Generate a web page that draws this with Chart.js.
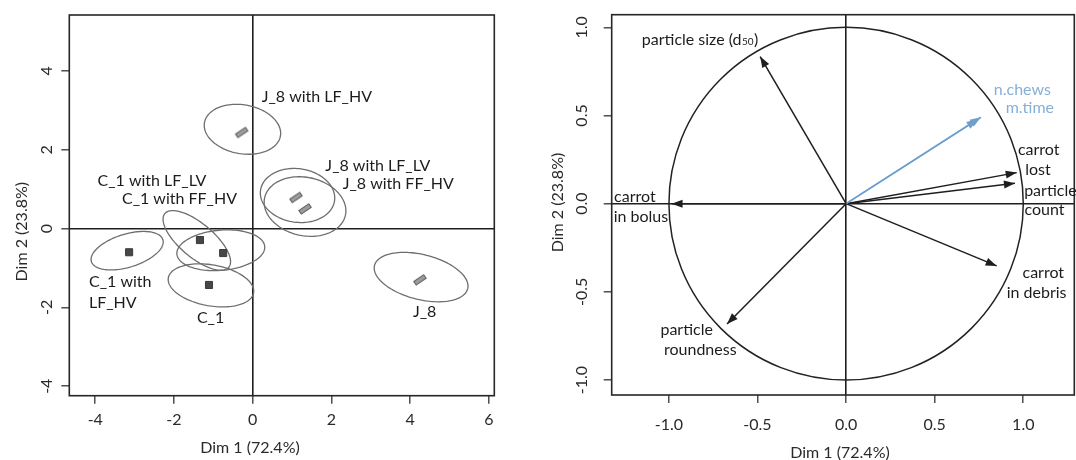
<!DOCTYPE html>
<html>
<head>
<meta charset="utf-8">
<script src="https://cdn.jsdelivr.net/npm/chart.js@4.4.0/dist/chart.umd.min.js"></script>
<style>
	html, body { margin: 0; padding: 0; background: #fff; }
	#wrap { position: relative; width: 1076px; height: 460px; overflow: hidden; }
	.panel { position: absolute; top: 0; height: 460px; }
	#left { left: 0; width: 540px; }
	#right { left: 540px; width: 536px; }
</style>
</head>
<body>
<div id="wrap">
	<div class="panel" id="left"><canvas id="indChart" width="540" height="460"></canvas></div>
	<div class="panel" id="right"><canvas id="varChart" width="536" height="460"></canvas></div>
</div>
<script>
'use strict'

// ---- individuals factor map ----
const indTicksX = [-4, -2, 0, 2, 4, 6];
const indTicksY = [-4, -2, 0, 2, 4];

// J_8 samples (grey bars) and C_1 samples (dark squares)
const j8X = [-0.28, 1.10, 1.33, 4.25];
const j8Y = [2.44, 0.79, 0.50, -1.30];
const c1X = [-3.14, -1.34, -0.75, -1.11];
const c1Y = [-0.60, -0.29, -0.62, -1.43];

// confidence ellipses: centre, semi axes, angle (deg)
const ellCx = [-0.26, 1.14, 1.33, 4.28, -3.19, -1.42, -0.81, -1.06];
const ellCy = [2.52, 0.84, 0.56, -1.23, -0.56, -0.30, -0.55, -1.44];
const ellA = [0.98, 0.95, 1.05, 1.22, 0.95, 1.06, 1.12, 1.10];
const ellB = [0.62, 0.68, 0.74, 0.57, 0.42, 0.43, 0.51, 0.52];
const ellAngle = [-10, -8, -12, -14, 17, -40, 5, -10];

const indLabels = ['J_8 with LF_HV', 'J_8 with LF_LV', 'J_8 with FF_HV', 'C_1 with LF_LV', 'C_1 with FF_HV', 'C_1', 'J_8'];
const indLabelX = [1.63, 3.18, 3.70, -2.56, -1.86, -1.07, 4.37];
const indLabelY = [3.34, 1.59, 1.13, 1.21, 0.75, -2.27, -2.11];
// left-aligned two line label
const lfhvLines = ['C_1 with', 'LF_HV'];
const lfhvX = -4.16;
const lfhvY = [-1.35, -1.88];

// ---- variables factor map ----
const varTicks = [-1, -0.5, 0, 0.5, 1];
const varNames = ['particle size', 'n.chews', 'm.time', 'carrot lost', 'particle count', 'carrot in bolus', 'carrot in debris', 'particle roundness'];
const varX = [-0.485, 0.761, 0.742, 0.963, 0.953, -0.985, 0.850, -0.672];
const varY = [0.834, 0.490, 0.478, 0.176, 0.116, 0.0, -0.353, -0.682];
const suppVars = ['n.chews', 'm.time'];

const varLabels = ['n.chews', 'm.time', 'carrot', 'lost', 'particle', 'count', 'carrot', 'in bolus', 'carrot', 'in debris', 'particle', 'roundness'];
const varLabelX = [0.995, 1.037, 1.087, 1.083, 1.153, 1.120, -1.192, -1.158, 1.113, 1.075, -0.900, -0.823];
const varLabelY = [0.645, 0.541, 0.307, 0.191, 0.075, -0.036, 0.040, -0.074, -0.395, -0.508, -0.716, -0.830];
const d50LabelX = -0.827;
const d50LabelY = 0.928;

const FONT = 'Lato, "Open Sans", sans-serif';
const INK = '#1c1c1c';
const BLUE = '#6f9fcd';

let axisOpts = (min, max, ticks) => ({
	type: 'linear',
	min: min,
	max: max,
	afterBuildTicks: (scale) => {
		scale.ticks = ticks.map((v) => ({value: v}));
	},
	ticks: {display: false},
	border: {display: false},
	grid: {
		drawOnChartArea: true,
		drawTicks: true,
		tickLength: 8,
		tickColor: '#333',
		tickWidth: 1.3,
		lineWidth: 1.6,
		color: (c) => (c.tick && c.tick.value === 0) ? '#1e1e1e' : 'rgba(0,0,0,0)'
	}
});

let drawBox = (chart) => {
	let ctx = chart.ctx;
	let a = chart.chartArea;
	ctx.save();
	ctx.strokeStyle = '#262626';
	ctx.lineWidth = 1.6;
	ctx.strokeRect(a.left, a.top, a.right - a.left, a.bottom - a.top);
	ctx.restore();
};

let drawTickText = (chart, fmt, xLabelY, yLabelX) => {
	let ctx = chart.ctx;
	let xs = chart.scales.x;
	let ys = chart.scales.y;
	ctx.save();
	ctx.fillStyle = '#2a2a2a';
	ctx.font = '16px ' + FONT;
	ctx.textAlign = 'center';
	ctx.textBaseline = 'middle';
	xs.ticks.forEach((t) => {
		ctx.fillText(fmt(t.value), xs.getPixelForValue(t.value), xLabelY);
	});
	ys.ticks.forEach((t) => {
		ctx.save();
		ctx.translate(yLabelX, ys.getPixelForValue(t.value));
		ctx.rotate(-Math.PI / 2);
		ctx.fillText(fmt(t.value), 0, 0);
		ctx.restore();
	});
	ctx.restore();
};

let drawTitles = (chart, xPos, yPos) => {
	let ctx = chart.ctx;
	ctx.save();
	ctx.fillStyle = '#2a2a2a';
	ctx.font = '16px ' + FONT;
	ctx.textAlign = 'center';
	ctx.textBaseline = 'middle';
	ctx.fillText('Dim 1 (72.4%)', xPos[0], xPos[1]);
	ctx.translate(yPos[0], yPos[1]);
	ctx.rotate(-Math.PI / 2);
	ctx.fillText('Dim 2 (23.8%)', 0, 0);
	ctx.restore();
};

let makeBar = () => {
	let c = document.createElement('canvas');
	c.width = 18;
	c.height = 18;
	let g = c.getContext('2d');
	g.translate(9, 9);
	g.rotate(-34 * Math.PI / 180);
	g.fillStyle = '#9d9d9d';
	g.strokeStyle = '#555';
	g.lineWidth = 1;
	g.fillRect(-6, -2.2, 12, 4.4);
	g.strokeRect(-6, -2.2, 12, 4.4);
	return c;
};

let indPlugin = {
	id: 'indExtras',
	beforeDatasetsDraw: (chart) => {
		let ctx = chart.ctx;
		let x = chart.scales.x;
		let y = chart.scales.y;
		ctx.save();
		ctx.strokeStyle = '#6e6e6e';
		ctx.lineWidth = 1.3;
		ellCx.forEach((cx, i) => {
			let rot = ellAngle[i] * Math.PI / 180;
			ctx.beginPath();
			for (let k = 0; k <= 120; k++) {
				let t = k / 120 * 2 * Math.PI;
				let ex = ellA[i] * Math.cos(t);
				let ey = ellB[i] * Math.sin(t);
				let px = x.getPixelForValue(cx + ex * Math.cos(rot) - ey * Math.sin(rot));
				let py = y.getPixelForValue(ellCy[i] + ex * Math.sin(rot) + ey * Math.cos(rot));
				if (k === 0) {
					ctx.moveTo(px, py);
				} else {
					ctx.lineTo(px, py);
				}
			}
			ctx.closePath();
			ctx.stroke();
		});
		ctx.restore();
	},
	afterDatasetsDraw: (chart) => {
		let ctx = chart.ctx;
		let x = chart.scales.x;
		let y = chart.scales.y;
		drawBox(chart);
		drawTickText(chart, (v) => String(v), 420, 46.7);
		drawTitles(chart, [250, 448], [21.7, 231.7]);
		ctx.save();
		ctx.fillStyle = INK;
		ctx.font = '16px ' + FONT;
		ctx.textAlign = 'center';
		ctx.textBaseline = 'middle';
		indLabels.forEach((txt, i) => {
			ctx.fillText(txt, x.getPixelForValue(indLabelX[i]), y.getPixelForValue(indLabelY[i]));
		});
		ctx.textAlign = 'left';
		lfhvLines.forEach((txt, i) => {
			ctx.fillText(txt, x.getPixelForValue(lfhvX), y.getPixelForValue(lfhvY[i]));
		});
		ctx.restore();
	}
};

let drawArrowHead = (ctx, x0, y0, x1, y1, color) => {
	let ang = Math.atan2(y1 - y0, x1 - x0);
	let len = 11;
	let half = 4;
	ctx.save();
	ctx.fillStyle = color;
	ctx.translate(x1, y1);
	ctx.rotate(ang);
	ctx.beginPath();
	ctx.moveTo(0, 0);
	ctx.lineTo(-len, -half);
	ctx.lineTo(-len, half);
	ctx.closePath();
	ctx.fill();
	ctx.restore();
};

let varPlugin = {
	id: 'varExtras',
	beforeDatasetsDraw: (chart) => {
		let ctx = chart.ctx;
		let x = chart.scales.x;
		let y = chart.scales.y;
		let cx = x.getPixelForValue(0);
		let cy = y.getPixelForValue(0);
		ctx.save();
		ctx.strokeStyle = '#222';
		ctx.lineWidth = 1.5;
		ctx.beginPath();
		ctx.ellipse(cx, cy, x.getPixelForValue(1) - cx, cy - y.getPixelForValue(1), 0, 0, 2 * Math.PI);
		ctx.stroke();
		ctx.restore();
	},
	afterDatasetsDraw: (chart) => {
		let ctx = chart.ctx;
		let x = chart.scales.x;
		let y = chart.scales.y;
		chart.data.datasets.forEach((ds, i) => {
			let pts = chart.getDatasetMeta(i).data;
			drawArrowHead(ctx, pts[0].x, pts[0].y, pts[1].x, pts[1].y, ds.borderColor);
		});
		drawBox(chart);
		drawTickText(chart, (v) => v.toFixed(1), 425, 41.7);
		drawTitles(chart, [300, 453], [18, 202.5]);
		ctx.save();
		ctx.font = '16px ' + FONT;
		ctx.textAlign = 'center';
		ctx.textBaseline = 'middle';
		varLabels.forEach((txt, i) => {
			ctx.fillStyle = suppVars.includes(txt) ? '#86afd8' : INK;
			ctx.fillText(txt, x.getPixelForValue(varLabelX[i]), y.getPixelForValue(varLabelY[i]));
		});
		// particle size (d50) with subscript
		ctx.fillStyle = INK;
		let main = 'particle size (d';
		let sub = '50';
		let wMain = ctx.measureText(main).width;
		ctx.font = '10px ' + FONT;
		let wSub = ctx.measureText(sub).width;
		ctx.font = '16px ' + FONT;
		let wEnd = ctx.measureText(')').width;
		let left = x.getPixelForValue(d50LabelX) - (wMain + wSub + wEnd) / 2;
		let base = y.getPixelForValue(d50LabelY);
		ctx.textAlign = 'left';
		ctx.fillText(main, left, base);
		ctx.fillText(')', left + wMain + wSub + 1, base);
		ctx.font = '10px ' + FONT;
		ctx.fillText(sub, left + wMain + 0.5, base + 2);
		ctx.restore();
	}
};

let indChart = new Chart(document.getElementById('indChart'), {
	type: 'scatter',
	data: {
		datasets: [{
			data: j8X.map((v, i) => ({x: v, y: j8Y[i]})),
			pointStyle: makeBar(),
			pointRadius: 6
		}, {
			data: c1X.map((v, i) => ({x: v, y: c1Y[i]})),
			pointStyle: 'rect',
			pointRadius: 5,
			backgroundColor: '#474747',
			borderColor: '#3a3a3a',
			borderWidth: 1
		}]
	},
	options: {
		responsive: false,
		animation: false,
		events: [],
		layout: {padding: {left: 61.3, right: 45.7, top: 15, bottom: 56.3}},
		plugins: {legend: {display: false}, tooltip: {enabled: false}},
		scales: {
			x: axisOpts(-4.66, 6.14, indTicksX),
			y: axisOpts(-4.24, 5.42, indTicksY)
		}
	},
	plugins: [indPlugin]
});

let varChart = new Chart(document.getElementById('varChart'), {
	type: 'scatter',
	data: {
		datasets: varNames.map((name, i) => ({
			label: name,
			data: [{x: 0, y: 0}, {x: varX[i], y: varY[i]}],
			showLine: true,
			pointRadius: 0,
			borderWidth: 1.5,
			borderColor: suppVars.includes(name) ? BLUE : '#1e1e1e'
		}))
	},
	options: {
		responsive: false,
		animation: false,
		events: [],
		layout: {padding: {left: 63.7, right: 1.7, top: 14.7, bottom: 57}},
		plugins: {legend: {display: false}, tooltip: {enabled: false}},
		scales: {
			x: axisOpts(-1.323, 1.288, varTicks),
			y: axisOpts(-1.085, 1.0715, varTicks)
		}
	},
	plugins: [varPlugin]
});
</script>
</body>
</html>
